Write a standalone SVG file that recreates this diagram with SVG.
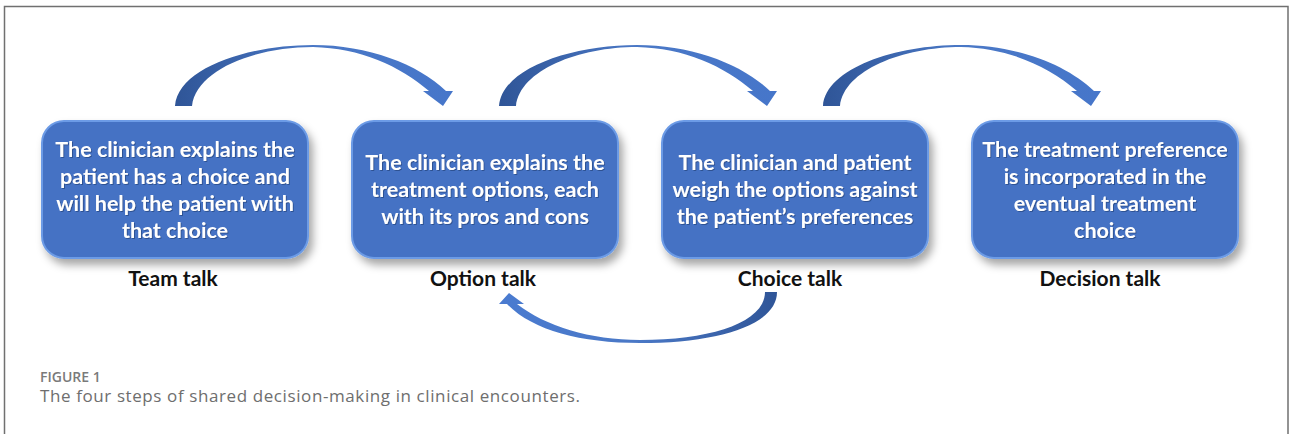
<svg xmlns="http://www.w3.org/2000/svg" width="1290" height="434" viewBox="0 0 1290 434">
  <defs>
    <style>
      .box { fill: #4472C4; stroke: #6C9BE6; stroke-width: 2; filter: url(#shadow); }
      .btxt { font-family: Lato, "Open Sans", "Liberation Sans", sans-serif; font-weight: 700; font-size: 21.5px; fill: #FFFFFF; text-anchor: middle; filter: url(#tshadow); }
      .lbl { font-family: Lato, "Open Sans", "Liberation Sans", sans-serif; font-weight: 700; font-size: 21px; fill: #111111; text-anchor: middle; }
      .cap-title { font-family: "Open Sans", "Liberation Sans", sans-serif; font-weight: 600; font-size: 14px; fill: #7A7A7A; }
      .cap-text { font-family: "Open Sans", "Liberation Sans", sans-serif; font-size: 17px; fill: #6E6E6E; }
      .frame { fill: none; stroke: #707070; stroke-width: 1.5; }
    </style>
    <filter id="shadow" x="-10%" y="-15%" width="125%" height="140%">
      <feDropShadow dx="4" dy="6" stdDeviation="4" flood-color="#000000" flood-opacity="0.35"/>
    </filter>
    <filter id="tshadow" x="-5%" y="-20%" width="110%" height="150%">
      <feDropShadow dx="1" dy="1" stdDeviation="0.6" flood-color="#1F3A70" flood-opacity="0.6"/>
    </filter>
    <linearGradient id="gTop" x1="0" y1="0" x2="1" y2="0">
      <stop offset="0" stop-color="#2F5597"/>
      <stop offset="0.5" stop-color="#4A78C6"/>
      <stop offset="1" stop-color="#4676CA"/>
    </linearGradient>
    <linearGradient id="gBottom" x1="0" y1="0" x2="1" y2="0">
      <stop offset="0" stop-color="#4A7BD0"/>
      <stop offset="0.5" stop-color="#4A78C6"/>
      <stop offset="1" stop-color="#2F5597"/>
    </linearGradient>
    <!-- curved forward arrow, drawn once and reused -->
    <path id="arcArrow" d="M175,106 C178,68 248,45 313,45 C368,45 418,64 446,91 L453,91 L443,106 L423,91 L429,91 C400,66 360,48 313,47 C255,47 196,70 192,106 Z"/>
  </defs>

  <!-- figure frame -->
  <path class="frame" d="M4.5,434 V6.5 H1288 V434"/>

  <g id="connectors">
    <use href="#arcArrow" fill="url(#gTop)"/>
    <use href="#arcArrow" fill="url(#gTop)" transform="translate(324,0)"/>
    <use href="#arcArrow" fill="url(#gTop)" transform="translate(648,0)"/>
    <!-- loop back from choice talk to option talk -->
    <path fill="url(#gBottom)" d="M777,292 C777,325 718,343 640,343 C580,343 532,330 507,304 L499,304 L509,293 L524,304 L517,304 C545,326 590,340 640,340 C712,340 765,322 765,292 Z"/>
  </g>

  <g id="team-talk">
    <rect class="box" x="42" y="121" width="266" height="137" rx="22"/>
    <text class="btxt" x="175" y="157">The clinician explains the</text>
    <text class="btxt" x="175" y="184">patient has a choice and</text>
    <text class="btxt" x="175" y="211">will help the patient with</text>
    <text class="btxt" x="175" y="238">that choice</text>
    <text class="lbl" x="173" y="286">Team talk</text>
  </g>

  <g id="option-talk">
    <rect class="box" x="352" y="121" width="266" height="137" rx="22"/>
    <text class="btxt" x="485" y="170">The clinician explains the</text>
    <text class="btxt" x="485" y="197">treatment options, each</text>
    <text class="btxt" x="485" y="224">with its pros and cons</text>
    <text class="lbl" x="483" y="286">Option talk</text>
  </g>

  <g id="choice-talk">
    <rect class="box" x="662" y="121" width="266" height="137" rx="22"/>
    <text class="btxt" x="795" y="170">The clinician and patient</text>
    <text class="btxt" x="795" y="197">weigh the options against</text>
    <text class="btxt" x="795" y="224">the patient’s preferences</text>
    <text class="lbl" x="790" y="286">Choice talk</text>
  </g>

  <g id="decision-talk">
    <rect class="box" x="972" y="121" width="266" height="137" rx="22"/>
    <text class="btxt" x="1105" y="157">The treatment preference</text>
    <text class="btxt" x="1105" y="184">is incorporated in the</text>
    <text class="btxt" x="1105" y="211">eventual treatment</text>
    <text class="btxt" x="1105" y="238">choice</text>
    <text class="lbl" x="1100" y="286">Decision talk</text>
  </g>

  <g id="caption">
    <text class="cap-title" x="40" y="382">FIGURE 1</text>
    <text class="cap-text" x="40" y="402" textLength="540" lengthAdjust="spacing">The four steps of shared decision-making in clinical encounters.</text>
  </g>
</svg>
